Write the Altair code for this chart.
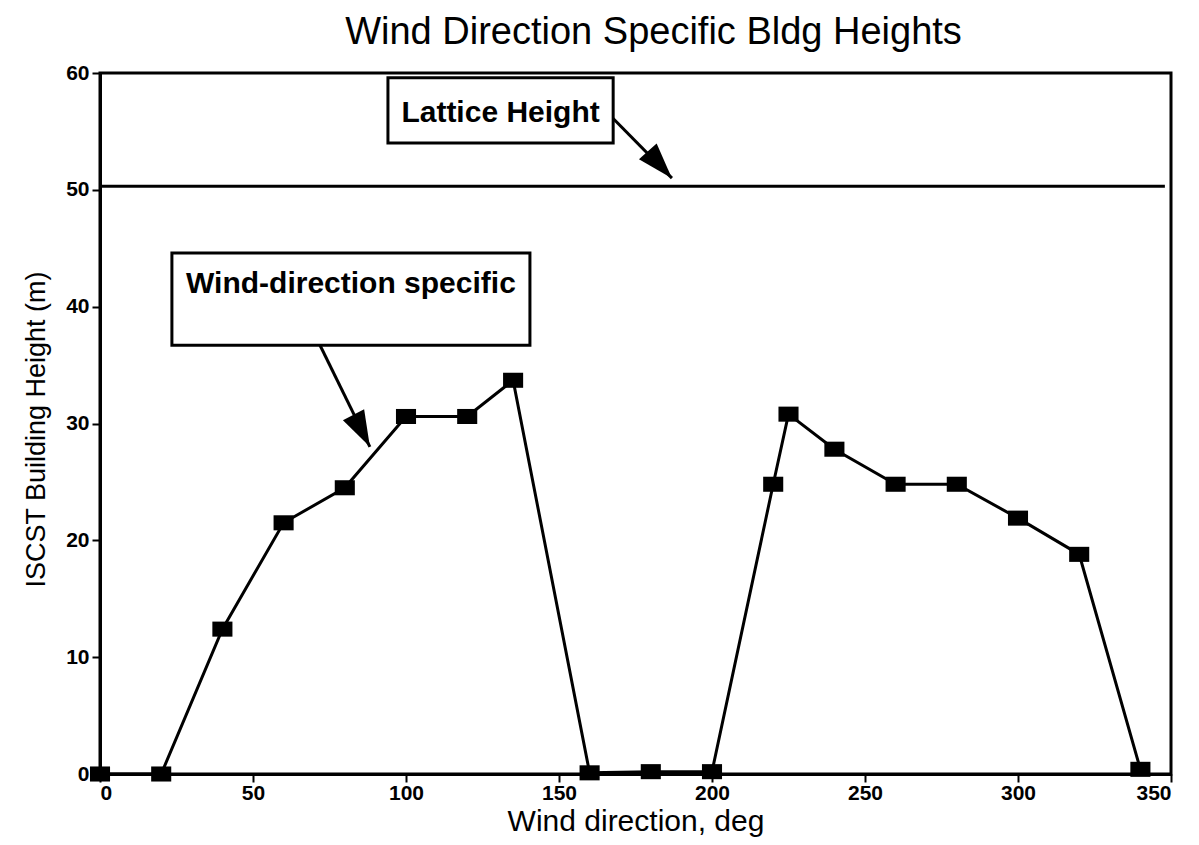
import altair as alt
import pandas as pd

# Wind-direction specific building heights
wind_dir = [0, 20, 40, 60, 80, 100, 120, 135, 160, 180, 200, 220, 225, 240, 260, 280, 300, 320, 340]
bldg_height = [0, 0, 12.4, 21.5, 24.5, 30.6, 30.6, 33.7, 0.1, 0.2, 0.2, 24.8, 30.8, 27.8, 24.8, 24.8, 21.9, 18.8, 0.4]

# Lattice height line
lattice_dir = [0, 348]
lattice_height = [50.3, 50.3]

x_ticks = [0, 50, 100, 150, 200, 250, 300, 350]
y_ticks = [0, 10, 20, 30, 40, 50, 60]

# annotation boxes (data coordinates)
boxes = pd.DataFrame({
    "x": [94.1, 23.5], "x2": [167.7, 140.5],
    "y": [59.6, 44.6], "y2": [54.0, 36.7],
    "tx": [130.9, 82.0], "ty": [56.6, 41.9],
    "label": ["Lattice Height", "Wind-direction specific"],
})
arrows = pd.DataFrame({
    "x": [167.7, 71.9], "y": [56.1, 36.7],
    "x2": [186.9, 88.2], "y2": [51.0, 28.0],
    "angle": [138.0, 153.0],
})

df = pd.DataFrame({"dir": wind_dir, "h": bldg_height})
lat = pd.DataFrame({"dir": lattice_dir, "h": lattice_height})

xs = alt.Scale(domain=[0, 350], nice=False)
ys = alt.Scale(domain=[0, 60], nice=False)

X = alt.X("dir:Q", scale=xs, axis=alt.Axis(values=x_ticks, title="Wind direction, deg",
                                           titleFontSize=30, titleY=56, titleBaseline="alphabetic",
                                           labelPadding=0))
Y = alt.Y("h:Q", scale=ys, axis=alt.Axis(values=y_ticks, title="ISCST Building Height (m)",
                                         titleFontSize=27, titleX=-50, titleY=356,
                                         labelPadding=3))

line = alt.Chart(df).mark_line(color="black", strokeWidth=3).encode(x=X, y=Y)
pts = alt.Chart(df).mark_point(shape="M-1.2,-0.9L1.2,-0.9L1.2,0.9L-1.2,0.9Z", filled=True,
                               color="black", opacity=1, size=280).encode(x=X, y=Y)
latline = alt.Chart(lat).mark_line(color="black", strokeWidth=3).encode(x=X, y=Y)

box = alt.Chart(boxes).mark_rect(fill="white", stroke="black", strokeWidth=3).encode(
    x=alt.X("x:Q", scale=xs), x2="x2:Q", y=alt.Y("y:Q", scale=ys), y2="y2:Q")
txt = alt.Chart(boxes).mark_text(font="Liberation Sans", color="black", fontWeight="bold",
                                 fontSize=30).encode(
    x=alt.X("tx:Q", scale=xs), y=alt.Y("ty:Q", scale=ys), text="label:N")
arr = alt.Chart(arrows).mark_rule(color="black", strokeWidth=3).encode(
    x=alt.X("x:Q", scale=xs), y=alt.Y("y:Q", scale=ys), x2="x2:Q", y2="y2:Q")
head = alt.Chart(arrows).mark_point(shape="M0,0L-0.33,1L0.33,1Z", filled=True, color="black",
                                    opacity=1, size=5200).encode(
    x=alt.X("x2:Q", scale=xs), y=alt.Y("y2:Q", scale=ys), angle=alt.Angle("angle:Q", scale=None))

chart = alt.layer(latline, line, pts, box, txt, arr, head).properties(
    width=1071, height=701,
    title=alt.Title("Wind Direction Specific Bldg Heights", fontSize=38, font="Liberation Sans",
                    fontWeight="normal", color="black", anchor="middle", offset=10, dx=18),
    autosize=alt.AutoSizeParams(type="none"),
    padding={"left": 92, "top": 65, "right": 20, "bottom": 72},
).configure_view(stroke="black", strokeWidth=3).configure_axis(
    domainColor="black", domainWidth=3, tickColor="black", tickWidth=2, tickSize=8,
    labelFont="Liberation Sans", labelFontSize=21, labelFontWeight="bold", labelColor="black",
    titleFont="Liberation Sans", titleFontWeight="normal", titleColor="black",
    grid=False,
)

chart.save("out.html", embed_options={"renderer": "svg", "actions": False})
